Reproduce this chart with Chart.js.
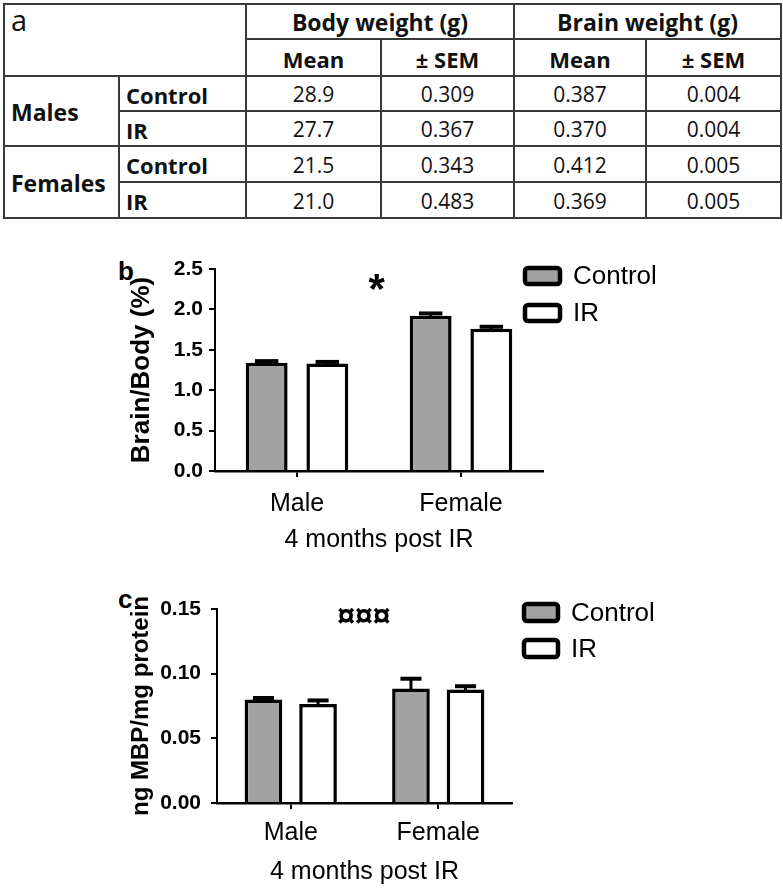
<!DOCTYPE html>
<html>
<head>
<meta charset="utf-8">
<script src="https://cdn.jsdelivr.net/npm/chart.js@4.4.1/dist/chart.umd.min.js"></script>
<style>
  html, body { margin: 0; padding: 0; background: #fff; }
  body { width: 783px; height: 889px; position: relative; overflow: hidden; }
  #tbl {
    position: absolute; left: 3px; top: 3px; width: 777px; height: 215px;
    border-collapse: collapse; table-layout: fixed;
    font-family: "Open Sans", Lato, sans-serif; color: #111;
  }
  #tbl td { border: 2px solid #3a3a3a; padding: 2px 0 0 0; font-size: 21px; text-align: center; line-height: 1; }
  #tbl td.hd { font-weight: bold; font-size: 22px; }
  #tbl td.hd.top { font-size: 23px; }
  #tbl td.grp { font-weight: bold; font-size: 23px; text-align: left; padding-left: 6px; }
  #tbl td.trt { font-weight: bold; font-size: 22px; text-align: left; padding-left: 6px; }
  #tbl td.corner { font-size: 29px; text-align: left; vertical-align: top; padding: 0 0 0 6px; line-height: 30px; }
  .panel { position: absolute; font: bold 26px "Liberation Sans", Arial, sans-serif; color: #000; }
  .box { position: absolute; }
</style>
</head>
<body>
<table id="tbl">
  <colgroup>
    <col style="width:115px"><col style="width:127px"><col style="width:135px">
    <col style="width:133px"><col style="width:132px"><col style="width:135px">
  </colgroup>
  <tbody id="tbody"></tbody>
</table>

<div class="panel" style="left:118px; top:256px;">b</div>
<div class="panel" style="left:118px; top:584px;">c</div>

<div class="box" style="left:100px; top:240px; width:683px; height:330px;"><canvas id="chartB"></canvas></div>
<div class="box" style="left:100px; top:575px; width:683px; height:314px;"><canvas id="chartC"></canvas></div>

<script>
// ---- table data ----
const groups = ["Males", "Females"];
const treatments = ["Control", "IR"];
const bodyMean = [28.9, 27.7, 21.5, 21.0];
const bodySem = [0.309, 0.367, 0.343, 0.483];
const brainMean = [0.387, 0.370, 0.412, 0.369];
const brainSem = [0.004, 0.004, 0.005, 0.005];

// ---- chart data ----
const categories = ["Male", "Female"];
const seriesNames = ["Control", "IR"];
const ratioControl = [1.34, 1.92];
const ratioIR = [1.33, 1.76];
const ratioControlErr = [0.02, 0.03];
const ratioIRErr = [0.02, 0.025];
const ratioTicks = [0, 0.5, 1.0, 1.5, 2.0, 2.5];
const mbpControl = [0.080, 0.0886];
const mbpIR = [0.0766, 0.0878];
const mbpControlErr = [0.0012, 0.0075];
const mbpIRErr = [0.0027, 0.0025];
const mbpTicks = [0, 0.05, 0.10, 0.15];

// build table
let html = "";
html += '<tr style="height:35px"><td class="corner" colspan="2" rowspan="2">a</td>' +
        '<td class="hd top" colspan="2">Body weight (g)</td><td class="hd top" colspan="2">Brain weight (g)</td></tr>';
html += '<tr style="height:37px"><td class="hd">Mean</td><td class="hd">± SEM</td><td class="hd">Mean</td><td class="hd">± SEM</td></tr>';
groups.forEach((g, gi) => {
  treatments.forEach((t, ti) => {
    const k = gi * 2 + ti;
    html += '<tr style="height:' + (gi === 0 ? 35 : 36) + 'px">';
    if (ti === 0) html += '<td class="grp" rowspan="2">' + g + '</td>';
    html += '<td class="trt">' + t + '</td>';
    html += '<td>' + bodyMean[k].toFixed(1) + '</td><td>' + bodySem[k].toFixed(3) + '</td>';
    html += '<td>' + brainMean[k].toFixed(3) + '</td><td>' + brainSem[k].toFixed(3) + '</td></tr>';
  });
});
document.getElementById("tbody").innerHTML = html;

Chart.defaults.color = "#000";
Chart.defaults.font.family = '"Liberation Sans", Arial, sans-serif';

const GRAY = "#a2a2a2";

// error bars, legend and significance mark
const extras = {
  id: "extras",
  afterDatasetsDraw(chart, args, opts) {
    const ctx = chart.ctx;
    const ys = chart.scales.y;
    ctx.save();
    ctx.strokeStyle = "#000";
    chart.data.datasets.forEach((ds, i) => {
      chart.getDatasetMeta(i).data.forEach((bar, j) => {
        const top = ys.getPixelForValue(ds.data[j] + ds.errors[j]);
        const half = bar.width * 0.28;
        ctx.lineWidth = 3;
        ctx.beginPath(); ctx.moveTo(bar.x, bar.y + 2); ctx.lineTo(bar.x, top); ctx.stroke();
        ctx.lineWidth = 4;
        ctx.beginPath(); ctx.moveTo(bar.x - half, top); ctx.lineTo(bar.x + half, top); ctx.stroke();
      });
    });

    // legend
    const L = opts.legend;
    chart.data.datasets.forEach((ds, i) => {
      const y0 = L.y + i * L.gap;
      ctx.beginPath();
      ctx.roundRect(L.x + 2, y0 + 2, L.w - 4, L.h - 4, 3);
      ctx.fillStyle = ds.backgroundColor;
      ctx.fill();
      ctx.lineWidth = 4.5;
      ctx.strokeStyle = "#000";
      ctx.stroke();
      ctx.fillStyle = "#000";
      ctx.font = '26px "Liberation Sans", Arial, sans-serif';
      ctx.textAlign = "left";
      ctx.textBaseline = "middle";
      ctx.fillText(ds.label, L.x + L.w + 11, y0 + L.h / 2 + 1);
    });

    // significance mark, centred on the x axis
    const M = opts.mark;
    ctx.font = M.font;
    ctx.textAlign = "left";
    ctx.textBaseline = "alphabetic";
    const m = ctx.measureText(M.text);
    const cx = (chart.chartArea.left + chart.chartArea.right) / 2 + M.dx;
    const px = cx - (m.actualBoundingBoxRight - m.actualBoundingBoxLeft) / 2;
    const py = M.y - (m.actualBoundingBoxDescent - m.actualBoundingBoxAscent) / 2;
    ctx.fillStyle = "#000";
    ctx.fillText(M.text, px, py);
    ctx.restore();
  }
};

function makeChart(id, cfg) {
  const tickFont = { size: 21, weight: "bold" };
  return new Chart(document.getElementById(id), {
    type: "bar",
    data: {
      labels: categories,
      datasets: [
        { label: seriesNames[0], data: cfg.control, errors: cfg.controlErr,
          backgroundColor: GRAY, borderColor: "#000", borderWidth: 3.5,
          categoryPercentage: 0.74, barPercentage: 0.69 },
        { label: seriesNames[1], data: cfg.ir, errors: cfg.irErr,
          backgroundColor: "#fff", borderColor: "#000", borderWidth: 3.5,
          categoryPercentage: 0.74, barPercentage: 0.69 }
      ]
    },
    options: {
      responsive: true,
      maintainAspectRatio: false,
      animation: false,
      layout: { padding: { left: 0, top: cfg.top, right: cfg.right, bottom: 0 } },
      plugins: {
        legend: { display: false },
        tooltip: { enabled: false },
        extras: { legend: cfg.legend, mark: cfg.mark }
      },
      scales: {
        x: {
          afterFit: s => { s.height = cfg.xHeight; },
          grid: { display: true, offset: false, drawOnChartArea: false, drawTicks: true,
                  tickLength: 6, color: "#000", lineWidth: 2 },
          border: { display: true, color: "#000", width: 2.5 },
          ticks: { font: { size: 25 }, padding: cfg.xTickPad, color: "#000" },
          title: { display: true, text: "4 months post IR", font: { size: 25 },
                   padding: { top: 0, bottom: cfg.xTitlePad }, color: "#000" }
        },
        y: {
          min: 0, max: cfg.max,
          afterFit: s => { s.width = cfg.yWidth; },
          afterBuildTicks: s => { s.ticks = cfg.ticks.map(v => ({ value: v })); },
          grid: { display: true, drawOnChartArea: false, drawTicks: true,
                  tickLength: 6, color: "#000", lineWidth: 2 },
          border: { display: true, color: "#000", width: 2 },
          ticks: { font: tickFont, padding: cfg.yTickPad, color: "#000",
                   callback: v => Number(v).toFixed(cfg.decimals) },
          title: { display: true, text: cfg.yTitle, font: { size: cfg.yTitleSize, weight: "bold" },
                   padding: { top: cfg.yTitlePad, bottom: 0 }, color: "#000" }
        }
      }
    },
    plugins: [extras]
  });
}

makeChart("chartB", {
  control: ratioControl, ir: ratioIR, controlErr: ratioControlErr, irErr: ratioIRErr,
  ticks: ratioTicks, max: 2.5, decimals: 1,
  top: 29, right: 240, xHeight: 99, yWidth: 115,
  xTickPad: 12, xTitlePad: 15, yTickPad: 6,
  yTitle: "Brain/Body (%)", yTitleSize: 26, yTitlePad: 26,
  legend: { x: 423, y: 26, w: 39, h: 20, gap: 37 },
  mark: { text: "*", font: 'bold 42px "Liberation Sans", Arial, sans-serif', dx: -2, y: 42 }
});

makeChart("chartC", {
  control: mbpControl, ir: mbpIR, controlErr: mbpControlErr, irErr: mbpIRErr,
  ticks: mbpTicks, max: 0.15, decimals: 2,
  top: 34, right: 271, xHeight: 86, yWidth: 117,
  xTickPad: 9, xTitlePad: 2, yTickPad: 10,
  yTitle: "ng MBP/mg protein", yTitleSize: 24, yTitlePad: 27,
  legend: { x: 422, y: 27, w: 38, h: 21, gap: 36 },
  mark: { text: "¤¤¤", font: 'bold 32px "Liberation Sans", Arial, sans-serif', dx: -1, y: 40 }
});
</script>
</body>
</html>
